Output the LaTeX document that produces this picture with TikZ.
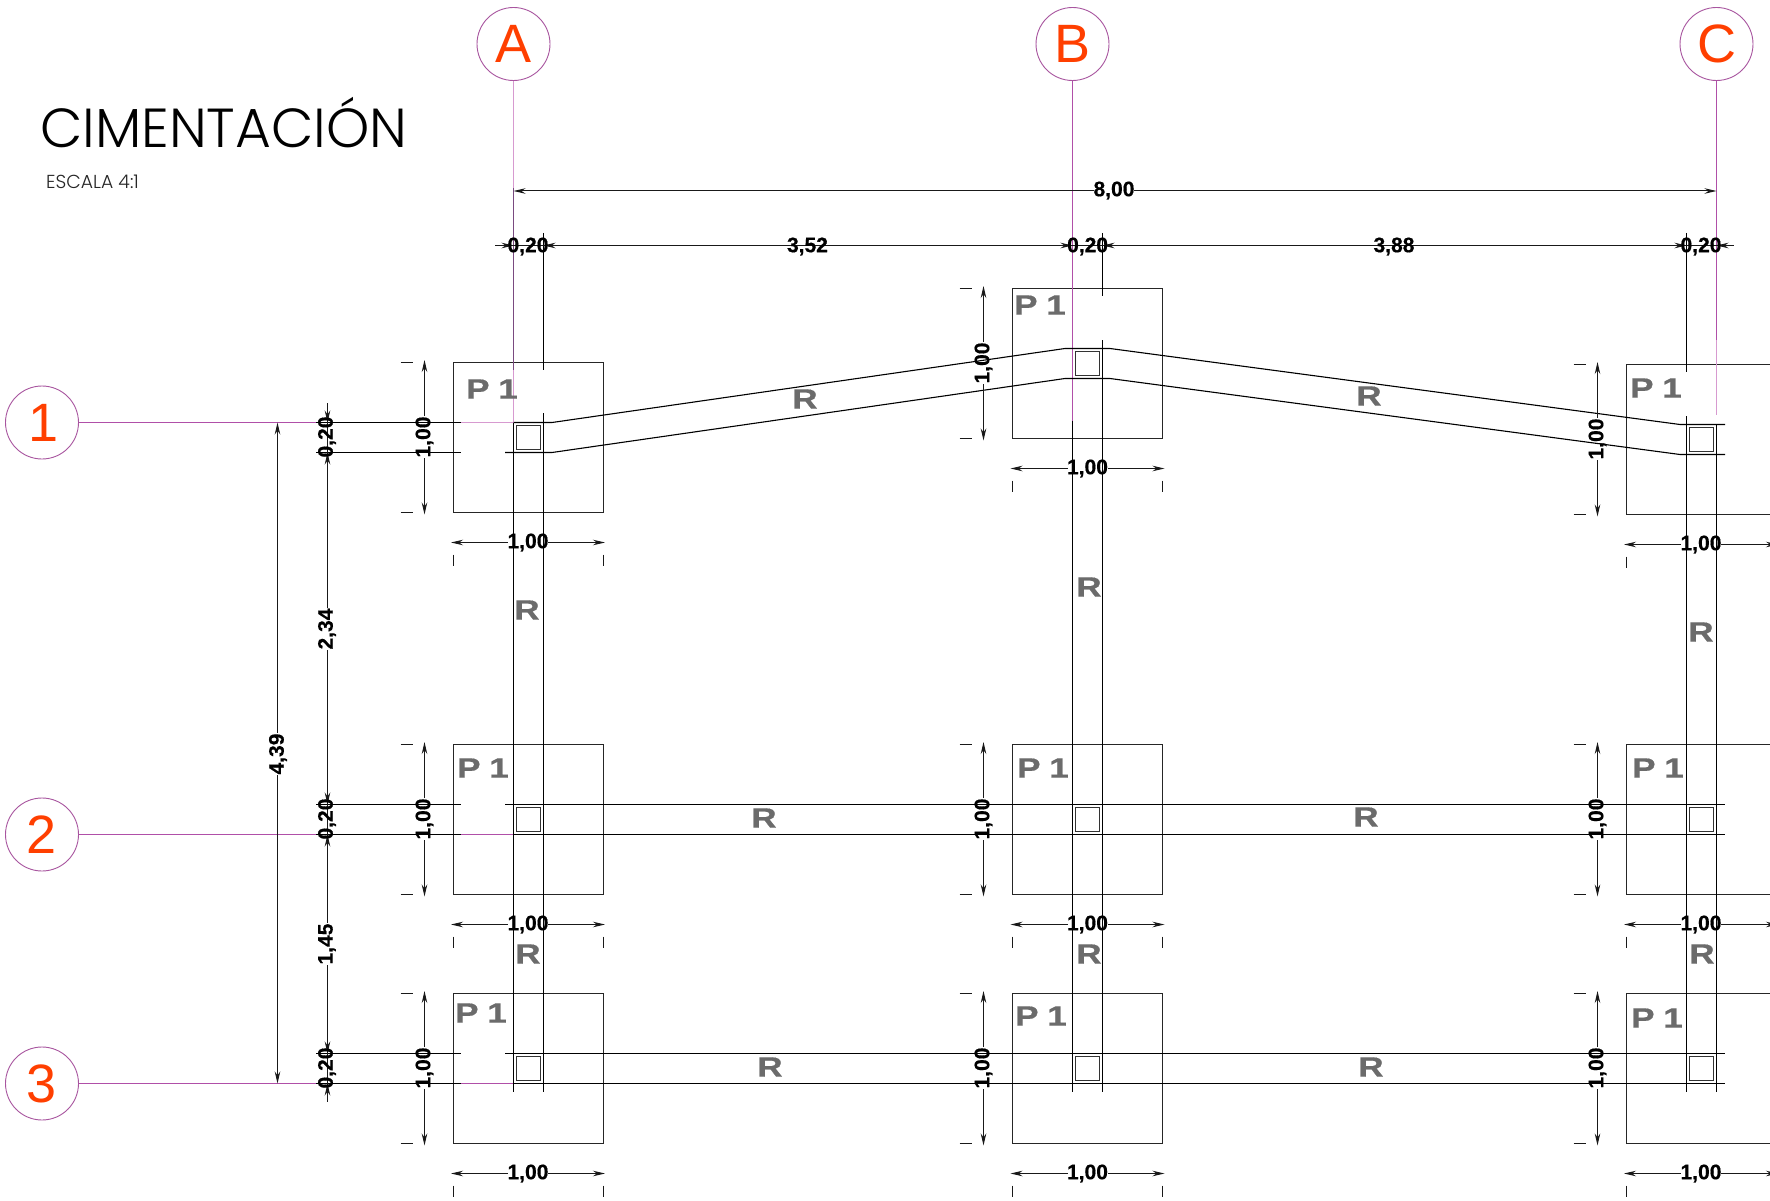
\documentclass[tikz,border=0pt]{standalone}
\usepackage{fontspec}
\setmainfont{Liberation Sans}
\newfontfamily\titlefont{Poppins Light}
\newfontfamily\dimfont{Liberation Sans}[BoldFeatures={FakeBold=0.6}]
\usetikzlibrary{arrows.meta}
\definecolor{axisdark}{HTML}{7A4A80}
\definecolor{axislight}{HTML}{D79AD0}
\definecolor{axismid}{HTML}{B04FA8}
\definecolor{bubble}{HTML}{A8559F}
\definecolor{letter}{HTML}{FF3F00}
\definecolor{tagcol}{HTML}{6B6B6B}
\tikzset{
  lin/.style={black,line width=1.1pt},
  padbox/.style={draw=black!85,line width=1pt},
  colbox/.style={draw=black!80,line width=1pt},
  dimline/.style={black!90,line width=1pt},
  end tip/.style={-{Stealth[length=12pt,width=5.5pt]}},
  start tip/.style={{Stealth[length=12pt,width=5.5pt]}-},
  dimtext/.style={inner sep=0pt,font=\dimfont\fontsize{21}{21}\selectfont\bfseries,text=black},
  tag/.style={inner sep=0pt,text=tagcol,font=\dimfont\fontsize{28}{28}\selectfont\bfseries,xscale=1.25},
  axiscircle/.style={circle,draw=bubble,line width=0.9pt,minimum size=73pt,inner sep=0pt,text=letter,font=\fontsize{54}{54}\selectfont},
  pinkaxis/.style={axismid,line width=0.9pt},
  lightaxis/.style={axislight,line width=1pt},
  darkaxis/.style={axisdark,line width=1.1pt},
}
% #1 name, #2 centre x, #3 pad top
\newcommand\padsq[3]{%
  \draw[padbox] ({#2-75},{#3}) rectangle ({#2+75},{#3+150.5});
  \draw[colbox] ({#2-12},{#3+63.5}) rectangle ({#2+12},{#3+87.5});
}
% horizontal 1,00 below a pad: #1 name, #2 centre x, #3 pad bottom
\newcommand\widthdim[3]{%
  \draw[dimline,start tip] ({#2-77},{#3+30}) -- ({#2-20},{#3+30});
  \draw[dimline,end tip] ({#2+20},{#3+30}) -- ({#2+77},{#3+30});
  \draw[dimline] ({#2-75},{#3+42}) -- ({#2-75},{#3+53});
  \draw[dimline] ({#2+75},{#3+42}) -- ({#2+75},{#3+53});
  \node[dimtext] (#1) at ({#2},{#3+30}) {1,00};
}
% vertical 1,00 left of a pad: #1 name, #2 line x, #3 pad top
\newcommand\heightdim[3]{%
  \draw[dimline,start tip] ({#2},{#3-2}) -- ({#2},{#3+54});
  \draw[dimline,end tip] ({#2},{#3+96}) -- ({#2},{#3+152.5});
  \draw[dimline] ({#2-24},{#3}) -- ({#2-12},{#3});
  \draw[dimline] ({#2-24},{#3+150.5}) -- ({#2-12},{#3+150.5});
  \node[dimtext,rotate=90] (#1) at ({#2},{#3+75}) {1,00};
}
\begin{document}
\begin{tikzpicture}[x=1pt,y=-1pt]
\useasboundingbox (0,0) rectangle (1770,1201);
\clip (0,0) rectangle (1770,1201);
\fill[white] (0,0) rectangle (1770,1201);

% pads and column squares
\padsq{a1}{528}{362}
\padsq{b1}{1087.5}{288}
\padsq{c1}{1701}{364}
\padsq{a2}{528}{744}
\padsq{b2}{1087.5}{744}
\padsq{c2}{1701}{744}
\padsq{a3}{528}{993}
\padsq{b3}{1087.5}{993}
\padsq{c3}{1701}{993}

% axis bubbles
\node[axiscircle] (axA) at (513.5,44) {A};
\node[axiscircle] (axB) at (1072.5,44) {B};
\node[axiscircle] (axC) at (1716.5,44) {C};
\node[axiscircle] (ax1) at (42,422.5) {\hspace{4pt}1};
\node[axiscircle] (ax2) at (42,834.5) {2};
\node[axiscircle] (ax3) at (42,1083.5) {3};

% vertical grid axes
\coordinate (Aend) at (513.5,422.5);
\coordinate (Bend) at (1072.5,421);
\coordinate (Cend) at (1716.5,424.5);
\draw[lightaxis] (axA.south) -- (513.5,188);
\draw[darkaxis] (513.5,188) -- (513.5,370);
\draw[lightaxis] (513.5,370) -- (Aend);
\draw[pinkaxis] (axB.south) -- (Bend);
\draw[pinkaxis] (axC.south) -- (1716.5,340);
\draw[lightaxis] (1716.5,340) -- (1716.5,415);

% horizontal grid axes
\draw[pinkaxis] (ax1.east) -- (316,422.5);
\draw[lightaxis] (460.7,422.5) -- (Aend);
\draw[pinkaxis] (ax2.east) -- (316,834.5);
\draw[pinkaxis] (460.7,834.5) -- (513.5,834.5);
\draw[pinkaxis] (ax3.east) -- (316,1083.5);
\draw[pinkaxis] (460.7,1083.5) -- (513.5,1083.5);

% vertical beams
\draw[lin] (Aend) -- (513.5,1092);
\draw[lin] (543.5,233) -- (543.5,370);
\draw[lin] (543.5,413) -- (543.5,1092);
\draw[lin] (Bend) -- (1072.5,1092);
\draw[lin] (1102.5,233) -- (1102.5,296);
\draw[lin] (1102.5,340) -- (1102.5,1092);
\draw[lin] (Cend) -- (1716.5,1092);
\draw[lin] (1686.5,233) -- (1686.5,372);
\draw[lin] (1686.5,416) -- (1686.5,1092);

% horizontal beams, row 1
\draw[lin] (316,422.5) -- (460.7,422.5);
\draw[lin] (316,452.5) -- (460.7,452.5);
\draw[lin] (513.5,422.5) -- (552,422.5) -- (1065,348.5) -- (1110,348.5) -- (1680,424.5) -- (1725,424.5);
\draw[lin] (505,452.5) -- (552,452.5) -- (1065,378.5) -- (1110,378.5) -- (1680,454.5) -- (1725,454.5);
% rows 2 and 3
\draw[lin] (316,804.5) -- (460.7,804.5);
\draw[lin] (505,804.5) -- (1725,804.5);
\draw[lin] (316,834.5) -- (460.7,834.5);
\draw[lin] (513.5,834.5) -- (1725,834.5);
\draw[lin] (316,1053.5) -- (460.7,1053.5);
\draw[lin] (505,1053.5) -- (1725,1053.5);
\draw[lin] (316,1083.5) -- (460.7,1083.5);
\draw[lin] (513.5,1083.5) -- (1725,1083.5);

% dimension 8,00
\draw[dimline,start tip] (axA.south |- 0,191) -- (1094,191);
\draw[dimline,end tip] (1134,191) -- (axC.south |- 0,191);
\node[dimtext] (d800) at (1114,190.5) {8,00};

% chain at the top
\draw[dimline] (495,245.5) -- (1734,245.5);
\foreach \xa/\xb in {513.5/543.5,1072.5/1102.5,1686.5/1716.5}{
  \draw[dimline,end tip] ({\xa-12},245.5) -- (\xa,245.5);
  \draw[dimline,end tip] ({\xb+12},245.5) -- (\xb,245.5);
}
\node[dimtext] (t020a) at (528,246.5) {0,20};
\node[dimtext] (t352) at (807.5,246.5) {3,52};
\node[dimtext] (t020b) at (1087.6,246.5) {0,20};
\node[dimtext] (t388) at (1394,246.5) {3,88};
\node[dimtext] (t020c) at (1701,246.5) {0,20};

% chain on the left
\draw[dimline] (327.5,403) -- (327.5,608);
\draw[dimline] (327.5,650) -- (327.5,923);
\draw[dimline] (327.5,965) -- (327.5,1101.7);
\foreach \ya/\yb in {422.5/452.5,804.5/834.5,1053.5/1083.5}{
  \draw[dimline,end tip] (327.5,{\ya-12}) -- (327.5,\ya);
  \draw[dimline,end tip] (327.5,{\yb+12}) -- (327.5,\yb);
}
\node[dimtext,rotate=90] (s020a) at (327,437) {0,20};
\node[dimtext,rotate=90] (s234) at (327,629) {2,34};
\node[dimtext,rotate=90] (s020b) at (327,819) {0,20};
\node[dimtext,rotate=90] (s145) at (327,944) {1,45};
\node[dimtext,rotate=90] (s020c) at (327,1068) {0,20};

% dimension 4,39
\draw[dimline,start tip] (277.5,422.5) -- (277.5,733);
\draw[dimline,end tip] (277.5,775) -- (277.5,1083.5);
\node[dimtext,rotate=90] (s439) at (278,754) {4,39};

% widths and heights of the pads
\widthdim{wa1}{528}{512.5}
\widthdim{wb1}{1087.5}{438.5}
\widthdim{wc1}{1701}{514.5}
\widthdim{wa2}{528}{894.5}
\widthdim{wb2}{1087.5}{894.5}
\widthdim{wc2}{1701}{894.5}
\widthdim{wa3}{528}{1143.5}
\widthdim{wb3}{1087.5}{1143.5}
\widthdim{wc3}{1701}{1143.5}
\heightdim{ha1}{424.5}{362}
\heightdim{hb1}{983.5}{288}
\heightdim{hc1}{1597.5}{364}
\heightdim{ha2}{424.5}{744}
\heightdim{hb2}{983.5}{744}
\heightdim{hc2}{1597.5}{744}
\heightdim{ha3}{424.5}{993}
\heightdim{hb3}{983.5}{993}
\heightdim{hc3}{1597.5}{993}

% P 1 tags
\foreach \nm/\x/\y in {pa1/492/389,pb1/1040/305,pc1/1656/388,pa2/483/768,pb2/1043/768,pc2/1658/768,pa3/481/1013,pb3/1041/1016,pc3/1657/1018}{
  \node[tag] (\nm) at (\x,\y) {P\hspace{7pt}1};
}
% R tags
\foreach \nm/\x/\y in {r1/805/399,r2/1369/396,r3/527/610,r4/1089/587,r5/1701/632,r6/764/818,r7/1366/817,r8/528/954,r9/1089/954,r10/1702/954,r11/770/1067,r12/1371/1067}{
  \node[tag] (\nm) at (\x,\y) {R};
}

% title
\node[anchor=west,inner sep=0pt,font=\titlefont\fontsize{55}{55}\selectfont] (title) at (40,122.5) {CIMENTACIÓN};
\node[anchor=west,inner sep=0pt,font=\titlefont\fontsize{18.8}{19}\selectfont,text=black!85] (scale) at (46,181.5) {ESCALA 4:1};
\end{tikzpicture}
\end{document}
